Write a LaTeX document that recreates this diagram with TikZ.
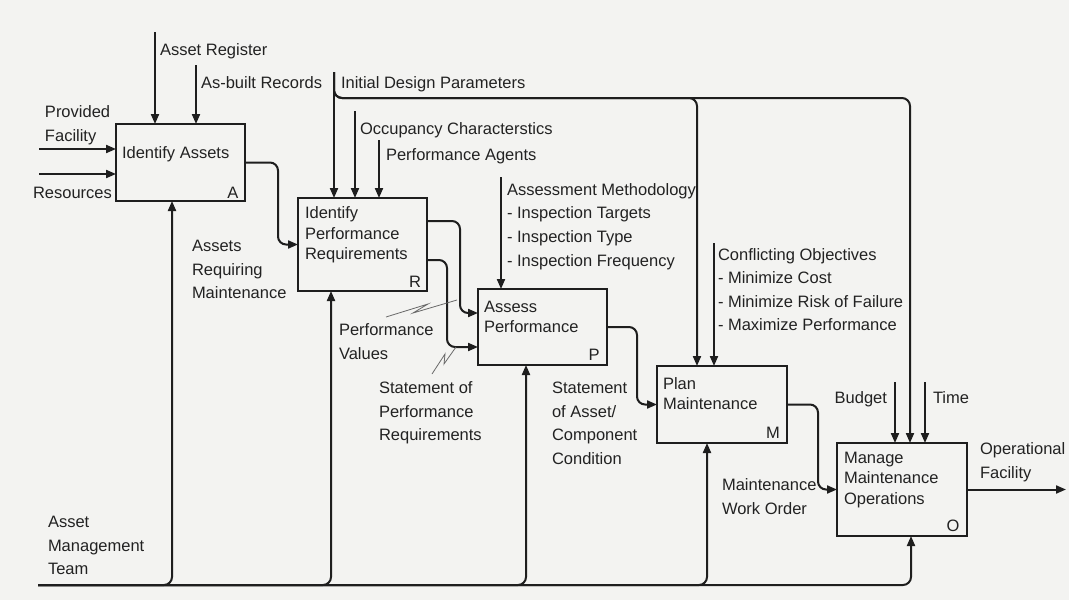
\documentclass[tikz,border=0pt]{standalone}
\usepackage{fontspec}
\setmainfont{Liberation Sans}
\usetikzlibrary{arrows.meta}
\definecolor{paper}{RGB}{243,243,241}
\definecolor{ink}{RGB}{30,30,30}
\definecolor{txt}{RGB}{34,34,34}
\definecolor{leader}{RGB}{105,105,105}

\begin{document}
\begin{tikzpicture}[x=1pt,y=-1pt,
  every node/.style={inner sep=0pt, outer sep=0pt, text=txt,
    font=\fontsize{16.5}{23.6}\selectfont},
  lbl/.style={anchor=west, align=left},
  one/.style={anchor=base west},
  boxtxt/.style={anchor=west, align=left, font=\fontsize{16.5}{20.5}\selectfont},
  tag/.style={anchor=base},
  actbox/.style={draw=ink, line width=2pt, anchor=north west},
  arr/.style={draw=ink, line width=2pt, rounded corners=8pt,
    -{Triangle[length=10pt,width=8pt]}},
  lead/.style={draw=leader, line width=0.8pt}
]
% sheet
\fill[paper] (0,0) rectangle (1069,600);
\useasboundingbox (0,0) rectangle (1069,600);

% activity boxes
\node[actbox, minimum width=129pt, minimum height=77pt] (A) at (116,124) {};
\node[actbox, minimum width=129pt, minimum height=93pt] (R) at (298,198) {};
\node[actbox, minimum width=129pt, minimum height=76pt] (P) at (478,289) {};
\node[actbox, minimum width=130pt, minimum height=77pt] (M) at (657,366) {};
\node[actbox, minimum width=130pt, minimum height=93pt] (O) at (837,443) {};

% box titles and identifiers
\node[one] (aTxt) at (122,158) {Identify Assets};
\node[tag] (aL) at (233,198) {A};
\node[boxtxt] (rTxt) at (305,235) {Identify\\Performance\\Requirements};
\node[tag] (rL) at (415,287) {R};
\node[boxtxt] (pTxt) at (484,317) {Assess\\Performance};
\node[tag] (pL) at (594,360) {P};
\node[boxtxt] (mTxt) at (663,393.5) {Plan\\Maintenance};
\node[tag] (mL) at (773,438) {M};
\node[boxtxt] (oTxt) at (844,480) {Manage\\Maintenance\\Operations};
\node[tag] (oL) at (953,531) {O};

% free ends of the arrows
\coordinate (pfIn) at (39,149);
\coordinate (resIn) at (39,174);
\coordinate (arIn) at (155,32);
\coordinate (abIn) at (196,65);
\coordinate (idp) at (334,72);
\coordinate (idpM) at (697,98);
\coordinate (idpO) at (910,98);
\coordinate (occIn) at (355,111);
\coordinate (pagIn) at (379,140);
\coordinate (amIn) at (501,177);
\coordinate (coIn) at (714,243);
\coordinate (budIn) at (895,382);
\coordinate (timIn) at (925,382);
\coordinate (outEnd) at (1066,489.5);
\coordinate (amt) at (38,585);
\coordinate (bA) at (172,585);
\coordinate (bR) at (331,585);
\coordinate (bP) at (526,585);
\coordinate (bM) at (707,585);
\coordinate (bO) at (911,585);

% inputs
\draw[arr] (pfIn) -- (pfIn -| A.west);
\draw[arr] (resIn) -- (resIn -| A.west);

% controls
\draw[arr] (arIn) -- (arIn |- A.north);
\draw[arr] (abIn) -- (abIn |- A.north);
\draw[arr] (idp) -- (idp |- R.north);
\draw[arr] (idp) |- (idpM) -- (idpM |- M.north);
\draw[arr] (idp) |- (idpO) -- (idpO |- O.north);
\draw[arr] (occIn) -- (occIn |- R.north);
\draw[arr] (pagIn) -- (pagIn |- R.north);
\draw[arr] (amIn) -- (amIn |- P.north);
\draw[arr] (coIn) -- (coIn |- M.north);
\draw[arr] (budIn) -- (budIn |- O.north);
\draw[arr] (timIn) -- (timIn |- O.north);

% outputs flowing down the staircase
\draw[arr] (A.east) -- ++(33,0) |- (R.west);
\draw[arr] ([yshift=23.5pt]R.east) -- ++(33,0) |- ([yshift=14pt]P.west);
\draw[arr] ([yshift=-15.5pt]R.east) -- ++(20,0) |- ([yshift=-20pt]P.west);
\draw[arr] (P.east) -- ++(30,0) |- (M.west);
\draw[arr] (M.east) -- ++(31,0) |- (O.west);
\draw[arr] (O.east) -- (outEnd);

% mechanism: asset management team
\draw[arr] (amt) -| (bA |- A.south);
\draw[arr] (amt) -| (bR |- R.south);
\draw[arr] (amt) -| (bP |- P.south);
\draw[arr] (amt) -| (bM |- M.south);
\draw[arr] (amt) -| (bO |- O.south);

% leader squiggles
\coordinate (pv1) at (386,317);
\coordinate (pv2) at (457,300);
\draw[lead] (pv1) -- (428,304) -- (413,313) -- (pv2);
\coordinate (sp1) at (432,374);
\coordinate (sp2) at (456,347);
\draw[lead] (sp1) -- (445,354) -- (444,364) -- (sp2);

% arrow labels
\node[lbl] (pfL) at (45,125) {Provided\\Facility};
\node[one] (resL) at (33,198) {Resources};
\node[one] (arL) at (160,55) {Asset Register};
\node[one] (abL) at (201,88) {As-built Records};
\node[one] (idpL) at (341,88) {Initial Design Parameters};
\node[one] (occL) at (360,134) {Occupancy Characterstics};
\node[one] (pagL) at (386,160) {Performance Agents};
\node[lbl] (armL) at (192,269.5) {Assets\\Requiring\\Maintenance};
\node[lbl] (amL) at (507,226.5) {Assessment Methodology\\- Inspection Targets\\- Inspection Type\\- Inspection Frequency};
\node[lbl] (pvL) at (339,341.5) {Performance\\Values};
\node[lbl] (sprL) at (379,413) {Statement of\\Performance\\Requirements};
\node[lbl] (sacL) at (552,423.5) {Statement\\of Asset/\\Component\\Condition};
\node[lbl] (coL) at (718,289.5) {Conflicting Objectives\\- Minimize Cost\\- Minimize Risk of Failure\\- Maximize Performance};
\node[anchor=base east] (budL) at (887,403) {Budget};
\node[one] (timL) at (933,403) {Time};
\node[lbl] (mwoL) at (722,496.5) {Maintenance\\Work Order};
\node[lbl] (ofL) at (980,462) {Operational\\Facility};
\node[lbl] (amtL) at (48,545.5) {Asset\\Management\\Team};
\end{tikzpicture}
\end{document}
